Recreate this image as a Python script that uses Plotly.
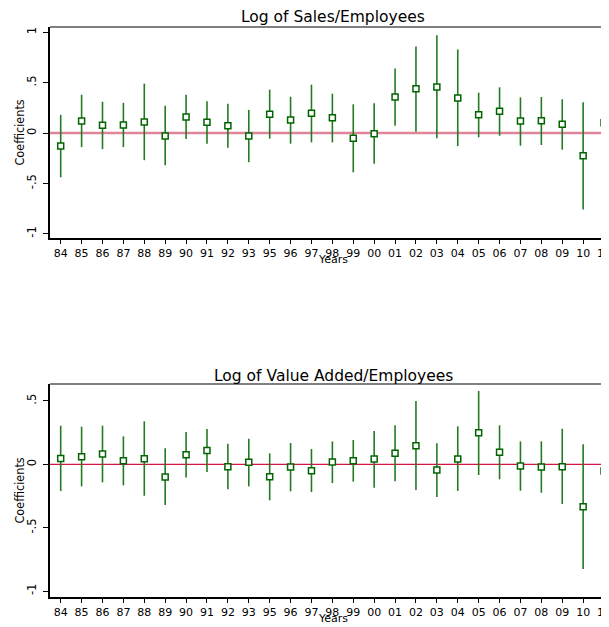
import plotly.graph_objects as go
from plotly.subplots import make_subplots

years = ["84", "85", "86", "87", "88", "89", "90", "91", "92", "93", "95", "96", "97",
         "98", "99", "00", "01", "02", "03", "04", "05", "06", "07", "08", "09", "10", "11"]

# Log of Sales/Employees
sales_coef = [-0.13, 0.12, 0.076, 0.08, 0.11, -0.03, 0.16, 0.106, 0.073, -0.03, 0.186, 0.13, 0.195,
              0.152, -0.053, -0.007, 0.357, 0.44, 0.457, 0.348, 0.18, 0.215, 0.119, 0.122, 0.086, -0.225, 0.102]
sales_hi = [0.18, 0.38, 0.31, 0.30, 0.49, 0.27, 0.38, 0.315, 0.29, 0.23, 0.43, 0.36, 0.48,
            0.39, 0.285, 0.295, 0.64, 0.86, 0.97, 0.83, 0.40, 0.454, 0.354, 0.357, 0.335, 0.305, 0.367]
sales_lo = [-0.44, -0.14, -0.16, -0.14, -0.27, -0.32, -0.06, -0.106, -0.146, -0.29, -0.056, -0.106, -0.093,
            -0.093, -0.39, -0.305, 0.073, 0.013, -0.053, -0.13, -0.043, -0.027, -0.126, -0.119, -0.166, -0.76, -0.166]

# Log of Value Added/Employees
va_coef = [0.047, 0.06, 0.081, 0.028, 0.044, -0.10, 0.076, 0.11, -0.019, 0.016, -0.098, -0.021, -0.05,
           0.018, 0.028, 0.042, 0.087, 0.147, -0.045, 0.042, 0.25, 0.095, -0.013, -0.021, -0.019, -0.335, -0.053]
va_hi = [0.305, 0.297, 0.305, 0.221, 0.34, 0.126, 0.255, 0.279, 0.163, 0.202, 0.087, 0.168, 0.121,
         0.181, 0.192, 0.263, 0.308, 0.50, 0.166, 0.30, 0.579, 0.308, 0.181, 0.181, 0.281, 0.158, 0.181]
va_lo = [-0.21, -0.174, -0.142, -0.166, -0.248, -0.321, -0.103, -0.061, -0.197, -0.174, -0.284, -0.213, -0.219,
         -0.148, -0.137, -0.185, -0.134, -0.203, -0.258, -0.21, -0.084, -0.118, -0.208, -0.224, -0.313, -0.826, -0.284]

titles = ["Log of Sales/Employees", "Log of Value Added/Employees"]

# page offset (browser body margin)
OFF = 8
W, H = 609, 627
ML, MR, MT, MB = 50 - OFF, 0, 27 - OFF, 627 - (597 - OFF)
PH = H - MT - MB
PW = W - ML - MR

def py(p):
    # page pixel y -> paper fraction
    return (H - MB - (p - OFF)) / PH

def px(p):
    return ((p - OFF) - ML) / PW

top_dom = [py(238), py(27)]
bot_dom = [py(597), py(384)]

fig = make_subplots(rows=2, cols=1)

bar_col = "#237a23"
mk_col = "#006400"

for i, (c, hi, lo) in enumerate([(sales_coef, sales_hi, sales_lo), (va_coef, va_hi, va_lo)]):
    fig.add_trace(go.Scatter(
        x=years, y=c, mode="markers",
        marker=dict(symbol="square", size=6, color="white", line=dict(color=mk_col, width=1.5)),
        error_y=dict(type="data", symmetric=False,
                     array=[h - v for h, v in zip(hi, c)],
                     arrayminus=[v - l for l, v in zip(lo, c)],
                     color=bar_col, thickness=1.6, width=0),
        showlegend=False, cliponaxis=False,
    ), row=i + 1, col=1)

tickfont = dict(family="DejaVu Sans", size=11, color="black")
xcommon = dict(type="category", categoryorder="array", categoryarray=years,
               range=[-0.512, 26.62], showgrid=False, zeroline=False,
               showline=True, linecolor="black", linewidth=2,
               ticks="outside", ticklen=4, tickwidth=1, tickcolor="black",
               tickfont=tickfont)
fig.update_xaxes(**xcommon)

ycommon = dict(showgrid=False, zeroline=False, showline=True, linecolor="black", linewidth=2,
               ticks="outside", ticklen=5, tickwidth=1, tickcolor="black",
               tickangle=-90, ticklabelstandoff=2,
               tickfont=dict(family="DejaVu Sans", size=11.5, color="black"))
fig.update_yaxes(**ycommon)

fig.update_layout(
    yaxis=dict(domain=top_dom, range=[-1.0427, 1.0526],
               tickvals=[-1, -0.5, 0, 0.5, 1], ticktext=["-1", "-.5", "0", ".5", "1"]),
    yaxis2=dict(domain=bot_dom, range=[-1.047, 0.634],
                tickvals=[-1, -0.5, 0, 0.5], ticktext=["-1", "-.5", "0", ".5"]),
    width=W, height=H,
    margin=dict(l=ML, r=MR, t=MT, b=MB),
    plot_bgcolor="white", paper_bgcolor="white",
)

shapes = []
for dom in (top_dom, bot_dom):
    shapes.append(dict(type="line", xref="paper", yref="paper", x0=0, x1=1.02,
                       y0=dom[1], y1=dom[1], line=dict(color="#808080", width=2)))
shapes.append(dict(type="line", xref="x domain", yref="y", x0=0, x1=1, y0=0, y1=0,
                   line=dict(color="#e0849a", width=2.5), layer="below"))
shapes.append(dict(type="line", xref="x2 domain", yref="y2", x0=0, x1=1, y0=0, y1=0,
                   line=dict(color="#d41446", width=1.3), layer="below"))
fig.update_layout(shapes=shapes)

annotations = []
for title, ty, yy, cy in [(titles[0], 17, 259, 132.5), (titles[1], 376, 619, 490.5)]:
    annotations.append(dict(text=title, xref="paper", yref="paper", x=px(333), y=py(ty),
                            xanchor="center", yanchor="middle", showarrow=False,
                            font=dict(family="DejaVu Sans", size=15.5, color="black")))
    annotations.append(dict(text="Years", xref="paper", yref="paper", x=px(333), y=py(yy),
                            xanchor="center", yanchor="middle", showarrow=False,
                            font=dict(family="DejaVu Sans", size=11, color="black")))
    annotations.append(dict(text="Coefficients", xref="paper", yref="paper", x=px(19), y=py(cy),
                            xanchor="center", yanchor="middle", showarrow=False, textangle=-90,
                            font=dict(family="Liberation Sans Narrow, DejaVu Sans Condensed, sans-serif",
                                      size=12.5, color="black")))
fig.update_layout(annotations=annotations)

fig.write_html("out.html")
